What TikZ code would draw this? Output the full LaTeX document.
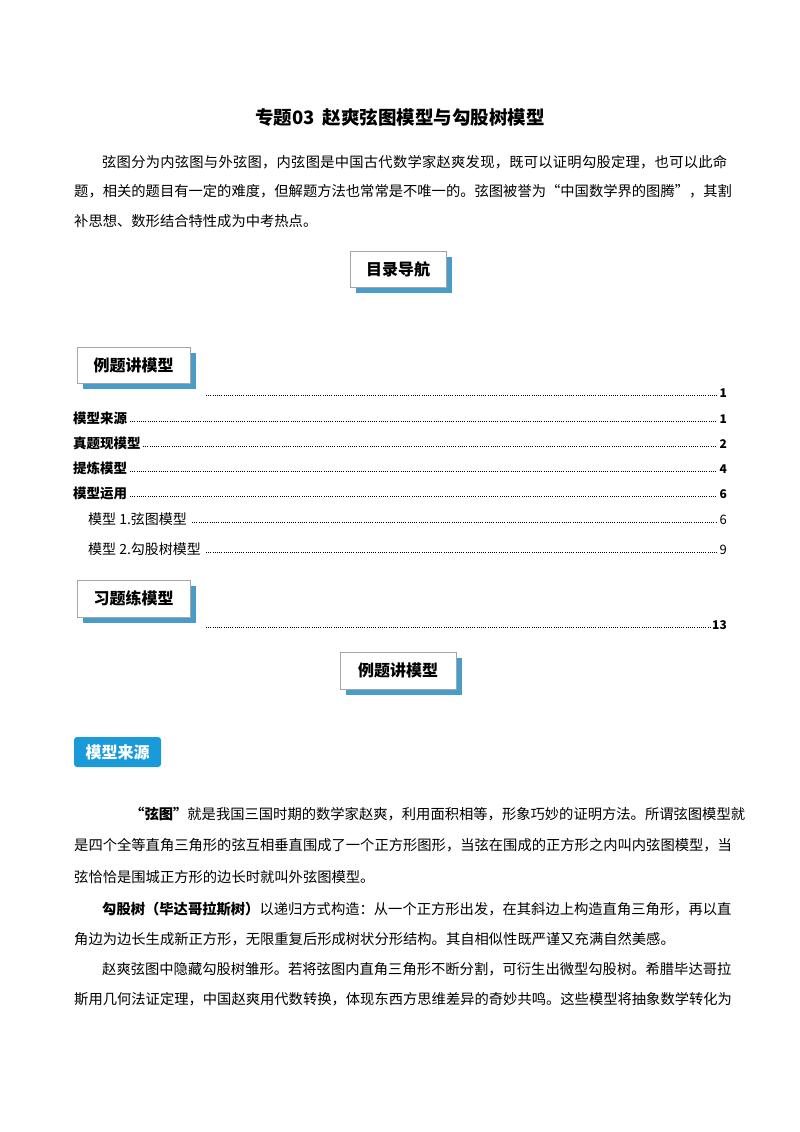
\documentclass[tikz,border=0pt]{standalone}
\usepackage{fontspec}
\setmainfont{Noto Sans CJK SC}
\XeTeXinterchartokenstate=1
\newcount\ia \newcount\ib
\ia=0
\loop
 \ib=0
 \loop
  \XeTeXinterchartoks\ia\ib={\hskip0pt plus 1fil\relax}
  \advance\ib by 1
 \ifnum\ib<4 \repeat
 \advance\ia by 1
\ifnum\ia<4 \repeat
\definecolor{shad}{HTML}{4A9CC8}
\definecolor{tagb}{HTML}{1A9AD9}
\newcommand{\jl}[2]{\hbox to #1pt{#2}}
\tikzset{
 body/.style={anchor=base west,inner sep=0pt,font=\fontsize{14.3}{16}\selectfont},
 toc/.style={anchor=base west,inner sep=0pt,font=\fontsize{13.5}{14}\selectfont\bfseries},
 tocs/.style={anchor=base west,inner sep=0pt,font=\fontsize{14}{14}\selectfont},
 num/.style={anchor=base east,inner sep=0pt,font=\fontsize{12}{14}\selectfont\bfseries},
 lead/.style={line width=1pt,dash pattern=on 0.9pt off 1.3pt},
}
\newcommand{\headbox}[4]{%
 \fill[shad] (#1+6,#2+6) rectangle (#3+6,#4+6);
 \draw[gray!70,line width=1pt,fill=white] (#1,#2) rectangle (#3,#4);}
\begin{document}
\begin{tikzpicture}[x=1pt,y=-1pt]
\useasboundingbox (0,0) rectangle (800,1132);
\node[anchor=base,inner sep=0pt,font=\fontsize{18.5}{20}\selectfont\bfseries] (title) at (400,124) {专题03\ \ 赵爽弦图模型与勾股树模型};
\node[body] (p1) at (102,167) {\jl{625}{弦图分为内弦图与外弦图，内弦图是中国古代数学家赵爽发现，既可以证明勾股定理，也可以此命}};
\node[body] (p2) at (74,196) {\jl{653}{题，相关的题目有一定的难度，但解题方法也常常是不唯一的。弦图被誉为“中国数学界的图腾”，其割}};
\node[body] (p3) at (74,226) {补思想、数形结合特性成为中考热点。};
\headbox{350}{251}{446}{287}
\node[inner sep=0pt,font=\fontsize{16}{18}\selectfont\bfseries] (mulu) at (398,269) {目录导航};
\headbox{77}{347}{190}{383}
\node[inner sep=0pt,font=\fontsize{16}{18}\selectfont\bfseries] (li1) at (133.5,365) {例题讲模型};
\coordinate (l1a) at (206,395); \coordinate (l1b) at (717,395);
\draw[lead] (l1a) -- (l1b);
\node[num] (n1) at (727,397) {1};
\node[toc] (t1) at (73,423) {模型来源};
\coordinate (l2a) at (130,421); \coordinate (l2b) at (717,421);
\draw[lead] (l2a) -- (l2b); \node[num] (n2) at (727,423) {1};
\node[toc] (t2) at (73,448) {真题现模型};
\coordinate (l3a) at (143,446); \coordinate (l3b) at (717,446);
\draw[lead] (l3a) -- (l3b); \node[num] (n3) at (727,448) {2};
\node[toc] (t3) at (73,473) {提炼模型};
\coordinate (l4a) at (130,471); \coordinate (l4b) at (717,471);
\draw[lead] (l4a) -- (l4b); \node[num] (n4) at (727,473) {4};
\node[toc] (t4) at (73,498) {模型运用};
\coordinate (l5a) at (130,496); \coordinate (l5b) at (717,496);
\draw[lead] (l5a) -- (l5b); \node[num] (n5) at (727,498) {6};
\node[tocs] (t5) at (88,524) {模型 1.弦图模型};
\coordinate (l6a) at (192,522); \coordinate (l6b) at (717,522);
\draw[lead,line width=0.6pt] (l6a) -- (l6b); \node[num,font=\fontsize{13}{14}\selectfont] (n6) at (727,524) {6};
\node[tocs] (t6) at (88,554) {模型 2.勾股树模型};
\coordinate (l7a) at (206,552); \coordinate (l7b) at (717,552);
\draw[lead,line width=0.6pt] (l7a) -- (l7b); \node[num,font=\fontsize{13}{14}\selectfont] (n7) at (727,554) {9};
\headbox{77}{580}{190}{617}
\node[inner sep=0pt,font=\fontsize{16}{18}\selectfont\bfseries] (xi) at (133.5,598.5) {习题练模型};
\coordinate (l8a) at (206,627); \coordinate (l8b) at (710,627);
\draw[lead] (l8a) -- (l8b); \node[num] (n8) at (727,629) {13};
\headbox{340}{652}{456}{689}
\node[inner sep=0pt,font=\fontsize{16}{18}\selectfont\bfseries] (li2) at (398,670.5) {例题讲模型};
\node[fill=tagb,rounded corners=3pt,text=white,minimum width=87pt,minimum height=30pt,inner sep=0pt,font=\fontsize{16}{18}\selectfont\bfseries] (tag) at (117.5,752) {模型来源};
\node[body] (q1) at (130,819) {\jl{597}{\textbf{“弦图”}就是我国三国时期的数学家赵爽，利用面积相等，形象巧妙的证明方法。所谓弦图模型就}};
\node[body] (q2) at (74,850) {\jl{653}{是四个全等直角三角形的弦互相垂直围成了一个正方形图形，当弦在围成的正方形之内叫内弦图模型，当}};
\node[body] (q3) at (74,882) {弦恰恰是围城正方形的边长时就叫外弦图模型。};
\node[body] (q4) at (102,914) {\jl{625}{\textbf{勾股树（毕达哥拉斯树）}以递归方式构造：从一个正方形出发，在其斜边上构造直角三角形，再以直}};
\node[body] (q5) at (74,944) {角边为边长生成新正方形，无限重复后形成树状分形结构。其自相似性既严谨又充满自然美感。};
\node[body] (q6) at (102,974) {\jl{625}{赵爽弦图中隐藏勾股树雏形。若将弦图内直角三角形不断分割，可衍生出微型勾股树。希腊毕达哥拉}};
\node[body] (q7) at (74,1004) {\jl{653}{斯用几何法证定理，中国赵爽用代数转换，体现东西方思维差异的奇妙共鸣。这些模型将抽象数学转化为}};
\end{tikzpicture}
\end{document}
